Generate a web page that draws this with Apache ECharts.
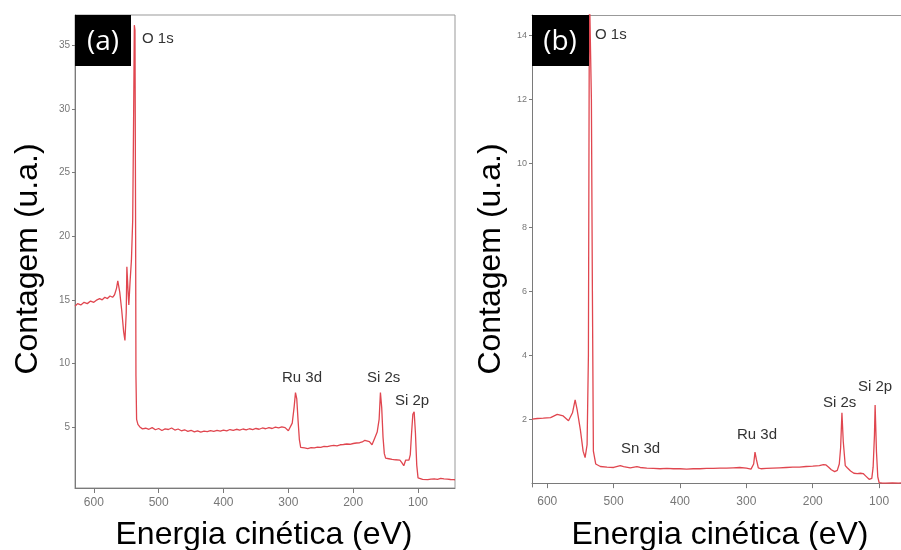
<!DOCTYPE html>
<html>
<head>
<meta charset="utf-8">
<script src="https://cdn.jsdelivr.net/npm/echarts@6/dist/echarts.min.js"></script>
<style>html,body{margin:0;padding:0;background:#fff}#c{width:901px;height:550px}</style>
</head>
<body>
<div id="c"></div>
<script>
// Panel (a): kinetic energy (eV) and counts (u.a.)
var energyA = [629,625,620,615,610,605,600,595,591,587,583,579,575,571,568,565,563,560,557,554,552,550,549,547,546,544,542,540,538.5,537.5,536.5,535.5,535,534,532,529,525,
520,515,510,505,500,495,490,485,480,475,470,465,460,455,450,445,440,435,430,425,420,415,410,405,400,395,390,385,380,375,370,365,360,355,350,345,340,335,330,325,320,315,310,305,
300,297,294,291,289,287,285,283,281,278,275,270,265,260,255,250,245,240,235,230,225,220,215,210,205,200,195,190,186,182,179,175,171,167,163,160,158,156,154,152,150,145,140,135,128,125,122,119,117,114,112,110,108,106,104,102,100,97,93,90,85,80,75,70,65,60,55,50,45,43];
var countsA = [14.5,14.7,14.6,14.8,14.7,14.9,14.8,15.0,15.1,15.0,15.2,15.1,15.3,15.2,15.4,15.9,16.5,15.6,14.2,12.5,11.8,14.0,17.6,15.5,14.6,16.5,18.1,21.3,30.0,36.6,36.2,20.0,9.0,5.6,5.2,5.0,4.85,
4.90,4.82,4.95,4.78,4.88,4.72,4.85,4.80,4.92,4.76,4.84,4.70,4.78,4.66,4.74,4.62,4.70,4.60,4.68,4.64,4.72,4.66,4.74,4.68,4.76,4.70,4.80,4.74,4.82,4.76,4.84,4.78,4.86,4.80,4.88,4.82,4.92,4.86,4.94,4.88,4.98,4.92,5.00,4.95,
4.70,4.75,5.30,6.60,7.70,7.20,5.50,4.00,3.40,3.30,3.35,3.30,3.38,3.35,3.42,3.40,3.47,3.45,3.52,3.55,3.52,3.60,3.62,3.66,3.64,3.70,3.74,3.76,3.82,3.95,4.10,3.85,3.60,4.10,4.60,5.60,7.70,6.50,4.20,2.90,2.55,2.50,2.45,2.42,2.40,2.20,1.95,2.40,2.55,2.40,2.80,4.50,6.00,6.20,4.50,2.00,1.00,0.90,0.88,0.90,0.86,0.90,0.92,0.88,0.96,0.92,0.90,0.87,0.86,0.85];

// Panel (b)
var energyB = [623,615,606,595,585,576,568,562,558,555,550,546,543,540,538,536.5,535,533.5,532,530.5,527,
520,510,500,490,485,475,465,460,450,440,430,420,410,400,390,380,370,360,350,340,330,320,310,300,293,289,287,285,282,278,270,260,250,240,230,220,210,200,190,184,180,176,172,167,163,160,158,156,154,151,148,143,138,133,128,124,120,115,111,109,107,106,104,102,100,95,90,80,70,67];
var countsB = [2.00,2.02,2.03,2.05,2.15,2.10,1.95,2.20,2.60,2.30,1.65,1.00,0.80,1.20,4.00,15.5,15.5,12.0,6.0,1.0,0.60,
0.52,0.50,0.49,0.55,0.52,0.48,0.52,0.49,0.47,0.46,0.45,0.46,0.45,0.45,0.44,0.45,0.45,0.46,0.46,0.47,0.47,0.48,0.49,0.47,0.44,0.60,0.97,0.75,0.48,0.45,0.46,0.47,0.48,0.49,0.50,0.50,0.52,0.53,0.55,0.58,0.57,0.50,0.42,0.36,0.40,0.60,1.10,2.20,1.30,0.55,0.48,0.38,0.31,0.30,0.31,0.30,0.22,0.12,0.15,0.50,1.50,2.44,1.00,0.20,0.02,0.00,0.00,0.01,0.00,0.01];

var xTicks = [100,200,300,400,500,600];
var yTicksA = [5,10,15,20,25,30,35];
var yTicksB = [2,4,6,8,10,12,14];

function pairs(xs, ys){ return xs.map(function(x,i){ return [x, ys[i]]; }); }

var lineColor = '#e0464f';
var axisGray = '#7a7a7a';

function xAxisCfg(idx, min, max){
  return {
    gridIndex: idx, type: 'value', inverse: true, min: min, max: max,
    axisLine: {show: true, lineStyle: {color: axisGray, width: 1}},
    axisTick: {show: true, length: 5, customValues: xTicks, lineStyle: {color: axisGray}},
    axisLabel: {customValues: xTicks, margin: 9, fontSize: 12, color: '#777', fontFamily: 'Arial, "Liberation Sans"'},
    splitLine: {show: false}
  };
}
function yAxisCfg(idx, min, max, ticks, fs){
  return {
    gridIndex: idx, type: 'value', min: min, max: max,
    axisLine: {show: true, lineStyle: {color: axisGray, width: 1}},
    axisTick: {show: true, length: 3, customValues: ticks, lineStyle: {color: axisGray}},
    axisLabel: {customValues: ticks, margin: 5, fontSize: fs, color: '#777', fontFamily: 'Arial, "Liberation Sans"'},
    splitLine: {show: false}
  };
}

var titleFont = '32px Arial, "Liberation Sans", sans-serif';
var peakFont = '15px Arial, "Liberation Sans", sans-serif';
function txt(x, y, t, font, fill, extra){
  var o = {type: 'text', x: x, y: y, z: 100, style: {text: t, font: font, fill: fill, textAlign: 'left', textVerticalAlign: 'middle'}};
  if (extra) { for (var k in extra) o.style[k] = extra[k]; }
  return o;
}

var topLineB = {
  gridIndex: 1, type: 'value', position: 'top', inverse: true, min: 67, max: 623,
  axisLine: {show: true, lineStyle: {color: '#999', width: 1}},
  axisTick: {show: false}, axisLabel: {show: false}, splitLine: {show: false}
};

var chart = echarts.init(document.getElementById('c'), null, {renderer: 'canvas'});
chart.setOption({
  animation: false,
  backgroundColor: '#fff',
  grid: [
    {left: 75, right: 446, top: 15, bottom: 62, show: true, borderColor: '#999', borderWidth: 1},
    {left: 532, right: 0, top: 15, bottom: 63, show: false}
  ],
  xAxis: [xAxisCfg(0, 43, 629), xAxisCfg(1, 67, 623), topLineB],
  yAxis: [yAxisCfg(0, 0.2, 37.4, yTicksA, 10), yAxisCfg(1, -0.12, 14.63, yTicksB, 9)],
  series: [
    {type: 'line', xAxisIndex: 0, yAxisIndex: 0, data: pairs(energyA, countsA), showSymbol: false, symbol: 'none', clip: true,
     lineStyle: {color: lineColor, width: 1.3}},
    {type: 'line', xAxisIndex: 1, yAxisIndex: 1, data: pairs(energyB, countsB), showSymbol: false, symbol: 'none', clip: true,
     lineStyle: {color: lineColor, width: 1.3}}
  ],
  graphic: [
    {type: 'rect', shape: {x: 75, y: 15, width: 56, height: 51}, style: {fill: '#000'}, z: 90},
    {type: 'rect', shape: {x: 532, y: 15, width: 57, height: 51}, style: {fill: '#000'}, z: 90},
    txt(103, 42, '(a)', '28px "Open Sans", sans-serif', '#fff', {textAlign: 'center'}),
    txt(560, 42, '(b)', '28px "Open Sans", sans-serif', '#fff', {textAlign: 'center'}),
    {type: 'text', x: 28, y: 259, rotation: Math.PI / 2, z: 100,
     style: {text: 'Contagem (u.a.)', font: titleFont, fill: '#000', textAlign: 'center', textVerticalAlign: 'middle'}},
    {type: 'text', x: 491, y: 259, rotation: Math.PI / 2, z: 100,
     style: {text: 'Contagem (u.a.)', font: titleFont, fill: '#000', textAlign: 'center', textVerticalAlign: 'middle'}},
    txt(264, 535, 'Energia cinética (eV)', titleFont, '#000', {textAlign: 'center'}),
    txt(720, 535, 'Energia cinética (eV)', titleFont, '#000', {textAlign: 'center'}),
    txt(142, 39, 'O 1s', peakFont, '#333'),
    txt(282, 378, 'Ru 3d', peakFont, '#333'),
    txt(367, 378, 'Si 2s', peakFont, '#333'),
    txt(395, 401, 'Si 2p', peakFont, '#333'),
    txt(595, 35, 'O 1s', peakFont, '#333'),
    txt(621, 449, 'Sn 3d', peakFont, '#333'),
    txt(737, 435, 'Ru 3d', peakFont, '#333'),
    txt(823, 403, 'Si 2s', peakFont, '#333'),
    txt(858, 387, 'Si 2p', peakFont, '#333')
  ]
});
</script>
</body>
</html>
